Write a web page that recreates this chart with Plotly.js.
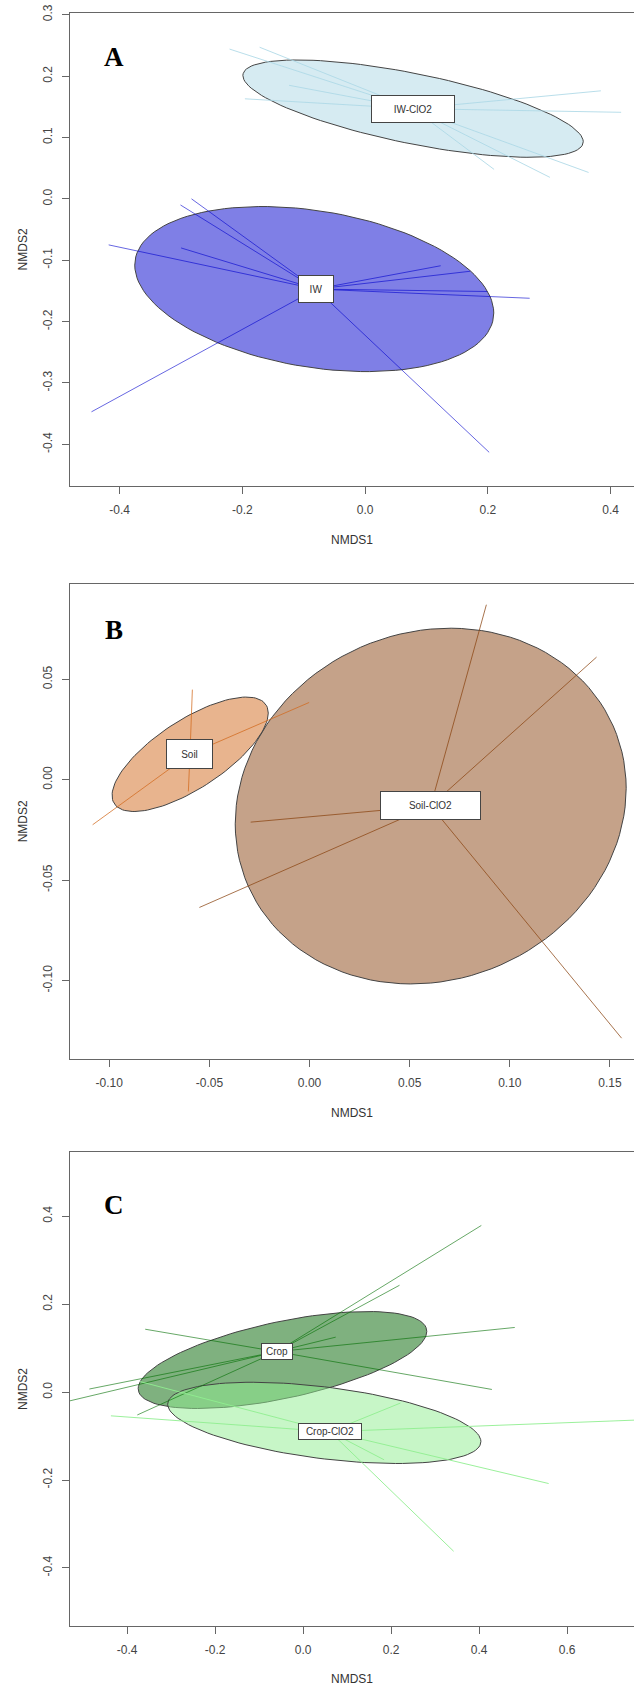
<!DOCTYPE html>
<html>
<head>
<meta charset="utf-8">
<script src="https://cdn.plot.ly/plotly-3.0.1.min.js"></script>
<style>html,body{margin:0;padding:0;background:#fff;}#plot{width:634px;height:1686px;}</style>
</head>
<body>
<div id="plot"></div>
<script>
// ---------- Panel A ----------
const aXTickVals = [-0.4, -0.2, 0.0, 0.2, 0.4];
const aXTickText = ["-0.4", "-0.2", "0.0", "0.2", "0.4"];
const aYTickVals = [-0.4, -0.3, -0.2, -0.1, 0.0, 0.1, 0.2, 0.3];
const aYTickText = ["-0.4", "-0.3", "-0.2", "-0.1", "0.0", "0.1", "0.2", "0.3"];

const iwCentroid = [-0.080, -0.147];
const iwX = [-0.446, 0.202, -0.418, -0.300, -0.301, -0.283, 0.123, 0.171, 0.199, 0.268];
const iwY = [-0.347, -0.413, -0.075, -0.080, -0.010, 0.000, -0.109, -0.118, -0.151, -0.162];
const iwEllipse = {cx: -0.083, cy: -0.147, w: 0.2925, h: 0.1345, rho: -0.29};

const iwcCentroid = [0.078, 0.147];
const iwcX = [-0.221, -0.172, -0.196, -0.124, 0.384, 0.417, 0.364, 0.301, 0.210];
const iwcY = [0.244, 0.247, 0.163, 0.185, 0.176, 0.141, 0.043, 0.035, 0.048];
const iwcEllipse = {cx: 0.078, cy: 0.147, w: 0.2773, h: 0.0793, rho: -0.68};

// ---------- Panel B ----------
const bXTickVals = [-0.10, -0.05, 0.00, 0.05, 0.10, 0.15];
const bXTickText = ["-0.10", "-0.05", "0.00", "0.05", "0.10", "0.15"];
const bYTickVals = [-0.10, -0.05, 0.00, 0.05];
const bYTickText = ["-0.10", "-0.05", "0.00", "0.05"];

const soilCentroid = [-0.0597, 0.0128];
const soilX = [-0.1083, -0.0002, -0.0585, -0.0605];
const soilY = [-0.0224, 0.0385, 0.0449, -0.0058];
const soilEllipse = {cx: -0.0596, cy: 0.0127, w: 0.039, h: 0.0285, rho: 0.72};

const soilcCentroid = [0.0605, -0.0130];
const soilcX = [0.0883, 0.1433, -0.0294, -0.0550, 0.1558];
const soilcY = [0.0872, 0.0611, -0.0211, -0.0636, -0.1287];
const soilcEllipse = {cx: 0.0605, cy: -0.0131, w: 0.0976, h: 0.0886, rho: 0.10};

// ---------- Panel C ----------
const cXTickVals = [-0.4, -0.2, 0.0, 0.2, 0.4, 0.6];
const cXTickText = ["-0.4", "-0.2", "0.0", "0.2", "0.4", "0.6"];
const cYTickVals = [-0.4, -0.2, 0.0, 0.2, 0.4];
const cYTickText = ["-0.4", "-0.2", "0.0", "0.2", "0.4"];

const cropCentroid = [-0.060, 0.092];
const cropX = [0.405, 0.219, 0.074, 0.481, -0.359, 0.429, -0.560, -0.486, -0.377];
const cropY = [0.379, 0.243, 0.125, 0.147, 0.143, 0.006, -0.027, 0.007, -0.052];
const cropEllipse = {cx: -0.047, cy: 0.073, w: 0.328, h: 0.1103, rho: 0.59};

const cropcCentroid = [0.061, -0.090];
const cropcX = [-0.437, 0.800, 0.558, 0.342, 0.184, -0.371, 0.221];
const cropcY = [-0.054, -0.062, -0.208, -0.362, -0.154, 0.024, -0.025];
const cropcEllipse = {cx: 0.048, cy: -0.070, w: 0.356, h: 0.0924, rho: -0.46};

// ---------- helpers ----------
function ellipsePath(e) {
  const xs = [], ys = [];
  const phi = Math.acos(e.rho);
  for (let i = 0; i <= 120; i++) {
    const t = 2 * Math.PI * i / 120;
    xs.push(e.cx + e.w * Math.cos(t));
    ys.push(e.cy + e.h * Math.cos(t + phi));
  }
  return {xs, ys};
}
function ellipseTrace(e, fill, xa, ya) {
  const p = ellipsePath(e);
  return {x: p.xs, y: p.ys, xaxis: xa, yaxis: ya, type: 'scatter', mode: 'lines',
    fill: 'toself', fillcolor: fill, line: {color: '#444', width: 1}, hoverinfo: 'skip', showlegend: false};
}
function spiderTrace(c, px, py, color, xa, ya) {
  const xs = [], ys = [];
  for (let i = 0; i < px.length; i++) {
    xs.push(c[0], px[i], null);
    ys.push(c[1], py[i], null);
  }
  return {x: xs, y: ys, xaxis: xa, yaxis: ya, type: 'scatter', mode: 'lines',
    line: {color: color, width: 1}, hoverinfo: 'skip', showlegend: false};
}

const traces = [
  ellipseTrace(iwcEllipse, 'rgba(173,216,230,0.5)', 'x', 'y'),
  ellipseTrace(iwEllipse, 'rgba(0,0,205,0.5)', 'x', 'y'),
  spiderTrace(iwcCentroid, iwcX, iwcY, 'rgba(173,216,230,0.85)', 'x', 'y'),
  spiderTrace(iwCentroid, iwX, iwY, 'rgba(0,0,205,0.6)', 'x', 'y'),

  ellipseTrace(soilEllipse, 'rgba(210,105,30,0.5)', 'x2', 'y2'),
  ellipseTrace(soilcEllipse, 'rgba(139,69,19,0.5)', 'x2', 'y2'),
  spiderTrace(soilCentroid, soilX, soilY, 'rgba(210,105,30,0.75)', 'x2', 'y2'),
  spiderTrace(soilcCentroid, soilcX, soilcY, 'rgba(139,69,19,0.75)', 'x2', 'y2'),

  ellipseTrace(cropEllipse, 'rgba(0,100,0,0.5)', 'x3', 'y3'),
  ellipseTrace(cropcEllipse, 'rgba(144,238,144,0.5)', 'x3', 'y3'),
  spiderTrace(cropCentroid, cropX, cropY, 'rgba(0,110,0,0.6)', 'x3', 'y3'),
  spiderTrace(cropcCentroid, cropcX, cropcY, 'rgba(144,238,144,0.9)', 'x3', 'y3'),
];

const tickFont = {family: 'Liberation Sans, Arial, sans-serif', size: 12, color: '#444'};
const titleFont = {family: 'Liberation Sans, Arial, sans-serif', size: 12, color: '#333'};

function xAxis(range, vals, text, anchor) {
  return {domain: [0, 1], anchor: anchor, range: range, tickmode: 'array', tickvals: vals, ticktext: text,
    showgrid: false, zeroline: false, showline: true, linecolor: '#666', linewidth: 1, mirror: true,
    ticks: 'outside', ticklen: 7, tickcolor: '#666', tickfont: tickFont, ticklabelstandoff: 6,
    title: {text: 'NMDS1', font: titleFont, standoff: 19}, fixedrange: true};
}
function yAxis(range, vals, text, anchor, domain) {
  return {domain: domain, anchor: anchor, range: range, tickmode: 'array', tickvals: vals, ticktext: text,
    showgrid: false, zeroline: false, showline: true, linecolor: '#666', linewidth: 1,
    ticks: 'outside', ticklen: 7, tickcolor: '#666', tickfont: tickFont, tickangle: -90, ticklabelstandoff: 5,
    title: {text: 'NMDS2', font: titleFont, standoff: 10}, fixedrange: true};
}

function labelAnn(text, c, xr, yr, w, h) {
  return {x: c[0], y: c[1], xref: xr, yref: yr, text: text, showarrow: false,
    font: {family: 'Liberation Sans, Arial, sans-serif', size: 10, color: '#333'},
    bgcolor: '#ffffff', bordercolor: '#444', borderwidth: 1, borderpad: 0, width: w, height: h,
    align: 'center', valign: 'middle'};
}
function letterAnn(text, y) {
  return {x: 0.078, y: y, xref: 'paper', yref: 'paper', text: '<b>' + text + '</b>', showarrow: false,
    font: {family: 'Liberation Serif, Times New Roman, serif', size: 27, color: '#000'},
    xanchor: 'center', yanchor: 'middle'};
}

const layout = {
  width: 634, height: 1686,
  margin: {l: 70, r: 0, t: 0, b: 0},
  paper_bgcolor: '#fff', plot_bgcolor: '#fff',
  showlegend: false,
  xaxis: xAxis([-0.481, 0.438], aXTickVals, aXTickText, 'y'),
  yaxis: yAxis([-0.468, 0.3033], aYTickVals, aYTickText, 'x', [0.7117, 0.99247]),
  xaxis2: xAxis([-0.1196, 0.162], bXTickVals, bXTickText, 'y2'),
  yaxis2: yAxis([-0.1389, 0.0975], bYTickVals, bYTickText, 'x2', [0.3721, 0.6536]),
  xaxis3: xAxis([-0.530, 0.752], cXTickVals, cXTickText, 'y3'),
  yaxis3: yAxis([-0.532, 0.546], cYTickVals, cYTickText, 'x3', [0.03559, 0.3167]),
  annotations: [
    labelAnn('IW-ClO2', iwcCentroid, 'x', 'y', 82, 26),
    labelAnn('IW', iwCentroid, 'x', 'y', 34, 26),
    labelAnn('Soil', soilCentroid, 'x2', 'y2', 45, 28),
    labelAnn('Soil-ClO2', soilcCentroid, 'x2', 'y2', 99, 27),
    labelAnn('Crop', cropCentroid, 'x3', 'y3', 30, 15),
    labelAnn('Crop-ClO2', cropcCentroid, 'x3', 'y3', 62, 15),
    letterAnn('A', 0.9662),
    letterAnn('B', 0.6263),
    letterAnn('C', 0.2853)
  ]
};

Plotly.newPlot('plot', traces, layout, {staticPlot: true, displayModeBar: false});
</script>
</body>
</html>
